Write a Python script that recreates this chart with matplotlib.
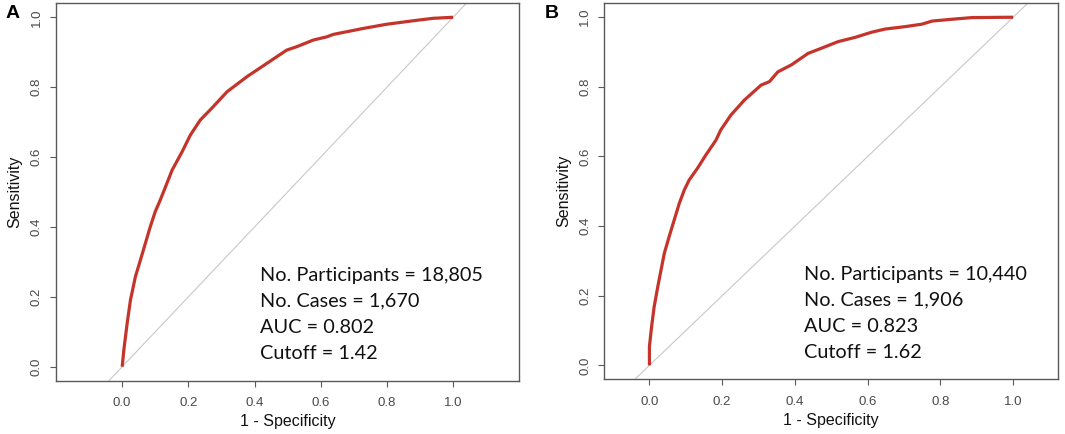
import matplotlib
matplotlib.use("Agg")
import matplotlib.pyplot as plt

# ROC curve points (1 - specificity, sensitivity)
fpr_a = [0.0, 0.005, 0.015, 0.025, 0.040, 0.055, 0.070, 0.085, 0.100, 0.115,
         0.131, 0.151, 0.181, 0.206, 0.236, 0.271, 0.317, 0.377, 0.437, 0.497,
         0.528, 0.578, 0.618, 0.638, 0.728, 0.799, 0.879, 0.939, 1.0]
tpr_a = [0.0, 0.048, 0.124, 0.191, 0.258, 0.305, 0.353, 0.401, 0.444, 0.477,
         0.515, 0.563, 0.615, 0.663, 0.706, 0.740, 0.787, 0.830, 0.868, 0.906,
         0.916, 0.935, 0.944, 0.951, 0.968, 0.980, 0.990, 0.997, 1.0]

fpr_b = [0.0, 0.0, 0.006, 0.013, 0.023, 0.032, 0.041, 0.054, 0.068, 0.082,
         0.096, 0.109, 0.132, 0.155, 0.183, 0.196, 0.224, 0.261, 0.307, 0.330,
         0.353, 0.390, 0.436, 0.473, 0.519, 0.565, 0.611, 0.648, 0.703, 0.749,
         0.777, 0.841, 0.887, 1.0]
tpr_b = [0.0, 0.054, 0.111, 0.168, 0.226, 0.274, 0.322, 0.369, 0.417, 0.465,
         0.504, 0.532, 0.566, 0.604, 0.647, 0.676, 0.719, 0.762, 0.805, 0.815,
         0.843, 0.863, 0.896, 0.911, 0.930, 0.942, 0.957, 0.966, 0.973, 0.980,
         0.989, 0.995, 0.999, 1.0]

panel_labels = ["A", "B"]
stats_a = ["No. Participants = 18,805", "No. Cases = 1,670", "AUC = 0.802", "Cutoff = 1.42"]
stats_b = ["No. Participants = 10,440", "No. Cases = 1,906", "AUC = 0.823", "Cutoff = 1.62"]
ticks = [0.0, 0.2, 0.4, 0.6, 0.8, 1.0]

RED = "#C4342A"
GREY = "#4a4a4a"

W, H = 1065, 434
fig = plt.figure(figsize=(W / 100, H / 100), dpi=100)

panels = [
    # axes box in px (left, bottom, right, top from image top), xlim, text x, label x
    ((56, 380.7, 519.3, 3.3), (-0.2, 1.2), 0.415, 6, fpr_a, tpr_a, stats_a),
    ((604.3, 379.3, 1058.3, 3.3), (-0.124, 1.124), 0.424, 545, fpr_b, tpr_b, stats_b),
]

for lab, (box, xlim, tx, lx, fpr, tpr, stats) in zip(panel_labels, panels):
    l, b, r, t = box
    ax = fig.add_axes([l / W, 1 - b / H, (r - l) / W, (b - t) / H])
    ax.set_xlim(*xlim)
    ax.set_ylim(-0.04, 1.04)

    ax.axline((0, 0), (1, 1), color="#c8c8c8", lw=0.8, zorder=1)
    ax.plot(fpr, tpr, color=RED, lw=2.3, solid_capstyle="butt", zorder=3)

    for s in ax.spines.values():
        s.set_color("#5a5a5a")
        s.set_linewidth(1.0)
    ax.set_xticks(ticks)
    ax.set_yticks(ticks)
    ax.set_xticklabels([f"{v:.1f}" for v in ticks])
    ax.set_yticklabels([f"{v:.1f}" for v in ticks], rotation=90, va="center")
    ax.tick_params(length=4.5, width=0.8, color="#5a5a5a", labelcolor=GREY,
                   labelsize=9.5, pad=5)
    ax.tick_params(axis="x", pad=7.5)
    for tl in ax.get_xticklabels() + ax.get_yticklabels():
        tl.set_family("Liberation Sans")
    ax.set_xlabel("1 - Specificity", fontsize=11.5, family="Liberation Sans",
                  color="#111111", labelpad=3.5)
    ax.set_ylabel("Sensitivity", fontsize=11.5, family="Liberation Sans",
                  color="#111111", labelpad=6)

    for i, line in enumerate(stats):
        ax.annotate(line, xy=(tx, 0.246), xycoords="data",
                    textcoords="offset points", xytext=(0, -i * 18.7),
                    ha="left", va="baseline", fontsize=14.3, family="Lato",
                    color="#111111")

    fig.text(lx / W, 1 - 18.3 / H, lab, fontsize=14, fontweight="bold",
             family="Liberation Sans", ha="left", va="baseline")

fig.savefig("out.png", dpi=100)
